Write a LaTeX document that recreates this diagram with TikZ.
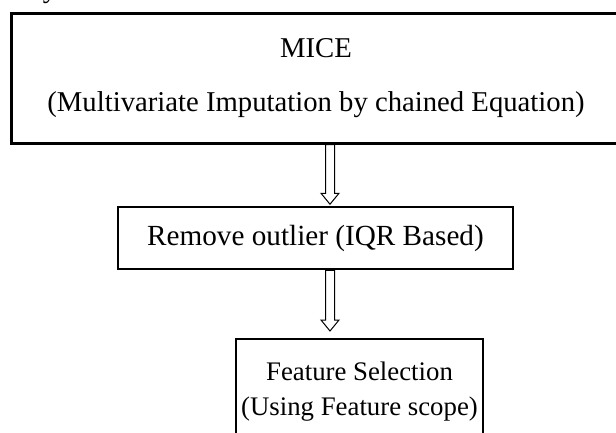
\documentclass[tikz,border=0pt]{standalone}
\usepackage{fontspec}
\setmainfont{Liberation Serif}
\usetikzlibrary{calc}
\begin{document}
\begin{tikzpicture}[x=1pt,y=-1pt,
  box/.style={draw=black, inner sep=0pt, align=center,
    font=\fontsize{29.2}{35}\selectfont},
  hollow/.style={draw=black, line width=1pt, fill=white, line join=miter}]
\useasboundingbox (0,0) rectangle (616,432);
\clip (0,0) rectangle (616,432);

% tail of the line of text above the chart
\node[font=\fontsize{28.7}{35}\selectfont, anchor=base, inner sep=0pt] (frag) at (50,-2.5) {y};

% processing steps
\node[box, line width=3pt, minimum width=610pt, minimum height=130pt,
  font=\fontsize{28.7}{54}\selectfont] (mice) at (316,78)
  {MICE\\(Multivariate Imputation by chained Equation)};
\node[box, line width=2.5pt, minimum width=395pt, minimum height=62pt] (iqr) at (315.5,238)
  {Remove outlier (IQR Based)};
\node[box, line width=2pt, minimum width=247pt, minimum height=106pt,
  font=\fontsize{26.8}{35}\selectfont] (feat) at (359.5,392)
  {Feature Selection\\(Using Feature scope)};

% hollow block arrows between the steps
\coordinate (axis) at (330,0);
\coordinate (a1) at (mice.south -| axis);
\coordinate (b1) at ($(iqr.north -| axis)+(0,-1.5)$);
\coordinate (a2) at (iqr.south -| axis);
\coordinate (b2) at ($(feat.north -| axis)+(0,-7)$);
\foreach \s/\t in {a1/b1, a2/b2} {
  \draw[hollow] ($(\s)+(-4.5,0)$) -- ($(\t)+(-4.5,-11)$) -- ($(\t)+(-9,-11)$)
    -- (\t) -- ($(\t)+(9,-11)$) -- ($(\t)+(4.5,-11)$) -- ($(\s)+(4.5,0)$) -- cycle;
}
\end{tikzpicture}
\end{document}
